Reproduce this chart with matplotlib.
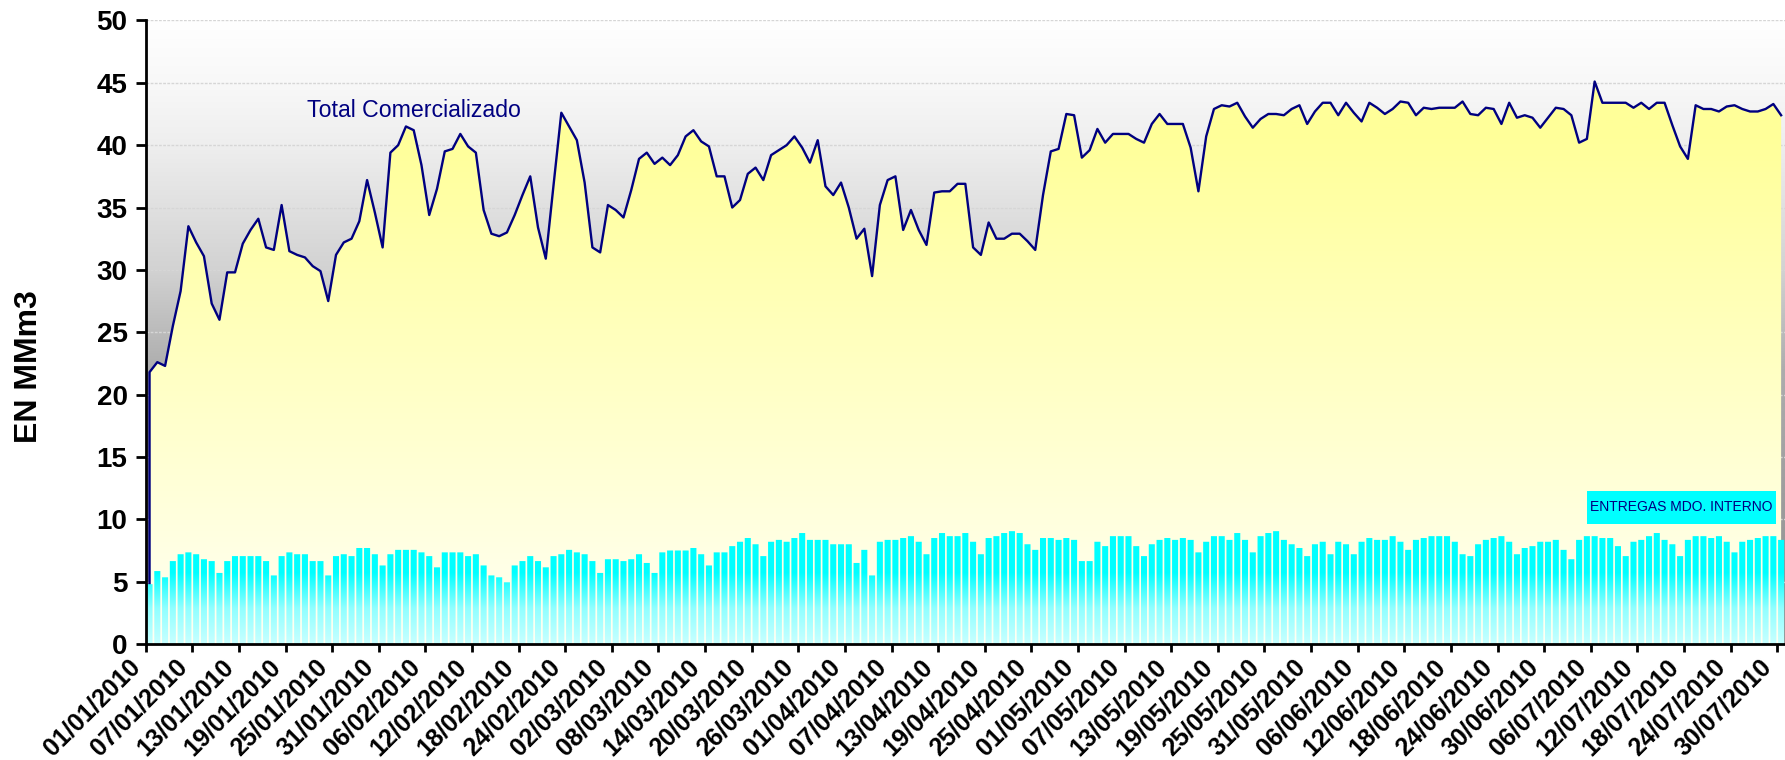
import numpy as np
import pandas as pd
import matplotlib.pyplot as plt
from matplotlib.colors import LinearSegmentedColormap
from matplotlib.patches import Polygon, Rectangle
from matplotlib.path import Path
from matplotlib.transforms import ScaledTranslation

plt.rcParams['font.family'] = ['Liberation Sans', 'DejaVu Sans']

fechas = pd.date_range('2010-01-01', '2010-07-30', freq='D')

# Total Comercializado (MMm3)
total = [21.8, 22.6, 22.3, 25.5, 28.3, 33.5, 32.2, 31.1, 27.3, 26.0,
         29.8, 29.8, 32.1, 33.2, 34.1, 31.8, 31.6, 35.2, 31.5, 31.2,
         31.0, 30.3, 29.9, 27.5, 31.2, 32.2, 32.5, 33.9, 37.2, 34.6,
         31.8, 39.4, 40.0, 41.5, 41.2, 38.4, 34.4, 36.5, 39.5, 39.7,
         40.9, 39.9, 39.4, 34.8, 32.9, 32.7, 33.0, 34.4, 36.0, 37.5,
         33.4, 30.9, 36.8, 42.6, 41.5, 40.4, 37.0, 31.8, 31.4, 35.2,
         34.8, 34.2, 36.4, 38.9, 39.4, 38.5, 39.0, 38.4, 39.2, 40.7,
         41.2, 40.3, 39.9, 37.5, 37.5, 35.0, 35.6, 37.7, 38.2, 37.2,
         39.2, 39.6, 40.0, 40.7, 39.8, 38.6, 40.4, 36.7, 36.0, 37.0,
         35.0, 32.5, 33.3, 29.5, 35.2, 37.2, 37.5, 33.2, 34.8, 33.2,
         32.0, 36.2, 36.3, 36.3, 36.9, 36.9, 31.8, 31.2, 33.8, 32.5,
         32.5, 32.9, 32.9, 32.3, 31.6, 36.0, 39.5, 39.7, 42.5, 42.4,
         39.0, 39.6, 41.3, 40.2, 40.9, 40.9, 40.9, 40.5, 40.2, 41.7,
         42.5, 41.7, 41.7, 41.7, 39.8, 36.3, 40.7, 42.9, 43.2, 43.1,
         43.4, 42.3, 41.4, 42.1, 42.5, 42.5, 42.4, 42.9, 43.2, 41.7,
         42.7, 43.4, 43.4, 42.4, 43.4, 42.6, 41.9, 43.4, 43.0, 42.5,
         42.9, 43.5, 43.4, 42.4, 43.0, 42.9, 43.0, 43.0, 43.0, 43.5,
         42.5, 42.4, 43.0, 42.9, 41.7, 43.4, 42.2, 42.4, 42.2, 41.4,
         42.2, 43.0, 42.9, 42.4, 40.2, 40.5, 45.1, 43.4, 43.4, 43.4,
         43.4, 43.0, 43.4, 42.9, 43.4, 43.4, 41.6, 39.9, 38.9, 43.2,
         42.9, 42.9, 42.7, 43.1, 43.2, 42.9, 42.7, 42.7, 42.9, 43.3, 42.4]

# Entregas mercado interno (MMm3)
entregas = [4.8, 5.85, 5.35, 6.65, 7.2, 7.35, 7.2, 6.8, 6.65, 5.7,
            6.65, 7.05, 7.05, 7.05, 7.05, 6.65, 5.5, 7.05, 7.35, 7.2,
            7.2, 6.65, 6.65, 5.5, 7.05, 7.2, 7.05, 7.7, 7.7, 7.2,
            6.3, 7.2, 7.55, 7.55, 7.55, 7.35, 7.05, 6.15, 7.35, 7.35,
            7.35, 7.05, 7.2, 6.3, 5.5, 5.35, 4.95, 6.3, 6.65, 7.05,
            6.65, 6.15, 7.05, 7.2, 7.55, 7.35, 7.2, 6.65, 5.7, 6.8,
            6.8, 6.65, 6.8, 7.2, 6.5, 5.7, 7.35, 7.5, 7.5, 7.5,
            7.7, 7.2, 6.3, 7.35, 7.35, 7.85, 8.2, 8.5, 8.0, 7.05,
            8.2, 8.35, 8.2, 8.5, 8.9, 8.35, 8.35, 8.35, 8.0, 8.0,
            8.0, 6.5, 7.55, 5.5, 8.2, 8.35, 8.35, 8.5, 8.65, 8.2,
            7.2, 8.5, 8.9, 8.65, 8.65, 8.9, 8.2, 7.2, 8.5, 8.65,
            8.9, 9.05, 8.9, 8.0, 7.55, 8.5, 8.5, 8.35, 8.5, 8.35,
            6.65, 6.65, 8.2, 7.85, 8.65, 8.65, 8.65, 7.85, 7.05, 8.0,
            8.35, 8.5, 8.35, 8.5, 8.35, 7.35, 8.2, 8.65, 8.65, 8.35,
            8.9, 8.35, 7.35, 8.65, 8.9, 9.05, 8.35, 8.0, 7.7, 7.05,
            8.0, 8.2, 7.2, 8.2, 8.0, 7.2, 8.2, 8.5, 8.35, 8.35,
            8.65, 8.2, 7.55, 8.35, 8.5, 8.65, 8.65, 8.65, 8.2, 7.2,
            7.05, 8.0, 8.35, 8.5, 8.65, 8.2, 7.2, 7.7, 7.85, 8.2,
            8.2, 8.35, 7.55, 6.8, 8.35, 8.65, 8.65, 8.5, 8.5, 7.85,
            7.05, 8.2, 8.35, 8.65, 8.9, 8.35, 8.0, 7.05, 8.35, 8.65,
            8.65, 8.5, 8.65, 8.2, 7.35, 8.2, 8.35, 8.5, 8.65, 8.65, 8.35]

n = len(fechas)
x = np.arange(n)
ext = (-0.5, n - 0.5, 0, 50)

fig = plt.figure(figsize=(17.85, 7.6), dpi=100)
ax = fig.add_axes([0.0816, 0.1526, 0.9184, 0.8205])

# fondo gris degradado
cm_bg = LinearSegmentedColormap.from_list('bg', [(0, '#8c8c8c'), (0.44, '#adadad'), (0.6, '#d2d2d2'),
                                                 (0.8, '#eeeeee'), (0.9, '#f8f8f8'), (1, '#ffffff')])
grad = np.linspace(0, 1, 256).reshape(-1, 1)
ax.imshow(grad, cmap=cm_bg, origin='lower', aspect='auto', extent=ext, zorder=0)

ax.set_axisbelow(True)
ax.yaxis.grid(True, color='#d6d6d6', ls=(0, (2, 1)), lw=1.0)

# area amarilla con degradado
verts = [(x[0], 0)] + list(zip(x, total)) + [(x[-1], 0)]
poly = Polygon(verts, closed=True, facecolor='none', edgecolor='none')
ax.add_patch(poly)
cm_y = LinearSegmentedColormap.from_list('am', [(0, '#fffff4'), (0.82, '#ffff99'), (1, '#ffff99')])
im = ax.imshow(grad, cmap=cm_y, origin='lower', aspect='auto', extent=ext, zorder=1)
im.set_clip_path(poly)
ax.plot(np.r_[x[0], x], np.r_[0, total], color='#000080', lw=1.7, zorder=1.5)

# barras cian con degradado
bars = ax.bar(x, entregas, width=0.78, facecolor='none', edgecolor='none', zorder=2)
paths = [b.get_path().transformed(b.get_patch_transform()) for b in bars]
cpath = Path.make_compound_path(*paths)
cm_c = LinearSegmentedColormap.from_list('cy', [(0, '#c8ffff'), (0.3, '#90ffff'),
                                                (0.6, '#00ffff'), (1, '#00ffff')])
imb = ax.imshow(grad, cmap=cm_c, origin='lower', aspect='auto',
                extent=(-0.5, n - 0.5, 0, 9.5), zorder=2)
imb.set_clip_path(cpath, ax.transData)

ax.set_xlim(-0.5, n - 0.5)
ax.set_ylim(0, 50)

# textos
ax.text(20.3, 42.25, 'Total Comercializado', color='#000080', fontsize=16.7,
        ha='left', va='baseline', zorder=5)
ax.add_patch(Rectangle((185.0, 9.6), 24.4, 2.7, facecolor='#00ffff', edgecolor='none', zorder=4))
ax.text(197.2, 10.95, 'ENTREGAS MDO. INTERNO', color='#000080', fontsize=10,
        ha='center', va='center', zorder=5)

# ejes
for s in ['top', 'right']:
    ax.spines[s].set_visible(False)
for s in ['left', 'bottom']:
    ax.spines[s].set_linewidth(2)
    ax.spines[s].set_zorder(3)

ax.set_yticks(np.arange(0, 51, 5))
ax.set_xticks(x[::6] - 0.5)
ax.set_xticklabels(fechas[::6].strftime('%d/%m/%Y'), rotation=45, ha='right',
                   va='center', rotation_mode='anchor', fontweight='bold', fontsize=18)
ax.tick_params(axis='x', length=6, width=2, pad=8)
ax.tick_params(axis='y', length=7, width=2, labelsize=20, pad=6)
desplaza = ScaledTranslation(-0.09, 0, fig.dpi_scale_trans)
for t in ax.get_xticklabels():
    t.set_transform(t.get_transform() + desplaza)
for t in ax.get_yticklabels():
    t.set_fontweight('bold')
ax.set_ylabel('EN MMm3', fontsize=23, fontweight='bold', va='center')
ax.yaxis.set_label_coords(-0.071, 0.445)

fig.savefig('out.png', dpi=100)
